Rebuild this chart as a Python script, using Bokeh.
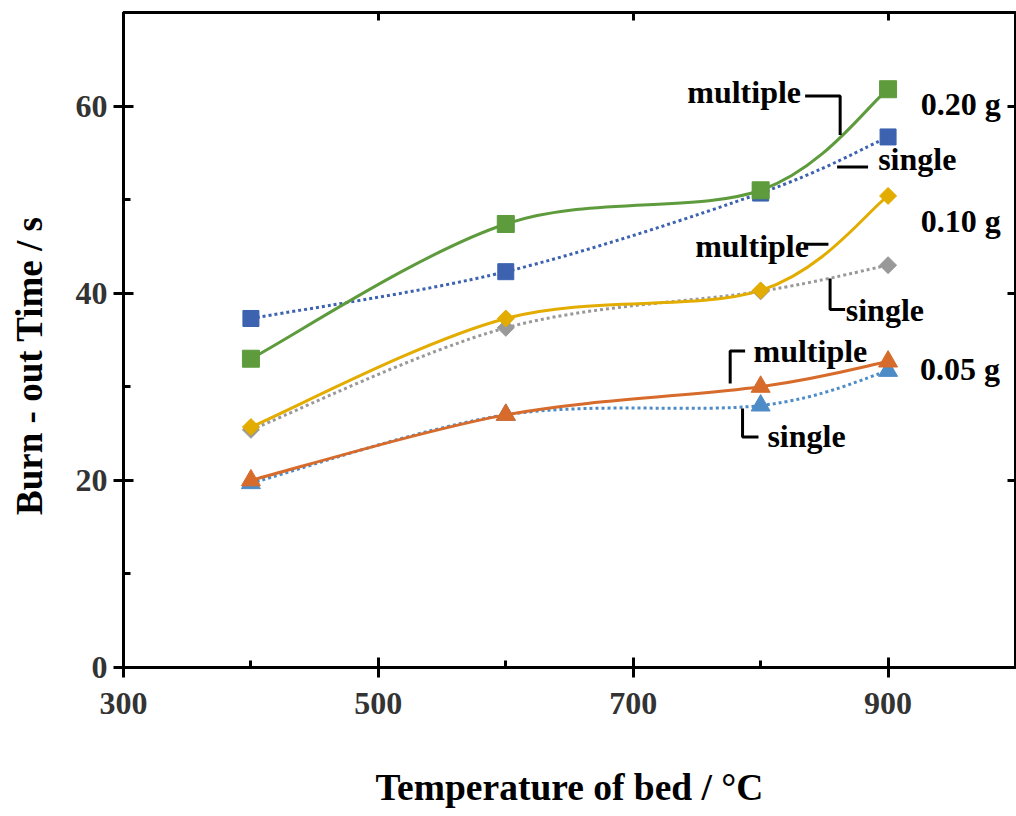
import math
from bokeh.plotting import figure
from bokeh.layouts import row
from bokeh.models import Range1d, FixedTicker, LinearAxis, Label
from bokeh.embed import file_html
from bokeh.resources import INLINE

# ---------------- data ----------------
temps = [400, 600, 800, 900]
multi_020 = [33.0, 47.4, 51.0, 61.8]
single_020 = [37.3, 42.3, 50.7, 56.7]
multi_010 = [25.7, 37.3, 40.3, 50.4]
single_010 = [25.4, 36.3, 40.2, 43.0]
multi_005 = [20.0, 27.0, 30.0, 32.7]
single_005 = [19.7, 27.0, 28.0, 31.7]
x_ticks = [300, 500, 700, 900]
x_minor = [400, 600, 800, 1000]
y_ticks = [0, 20, 40, 60]
y_minor = [10, 30, 50, 70]

FONT = "Liberation Serif"
TITLE_W = 70

# narrow strip holding the vertical y-axis title
tf = figure(width=TITLE_W, height=816, output_backend="svg", toolbar_location=None,
            x_range=Range1d(0, TITLE_W), y_range=Range1d(0, 816),
            x_axis_type=None, y_axis_type=None, min_border=0)
tf.grid.visible = False
tf.outline_line_color = None
tf.add_layout(Label(x=29, y=376, text="Burn - out Time / s", angle=math.pi / 2,
                    text_align="center", text_baseline="middle", text_font=FONT,
                    text_font_style="bold", text_font_size="37px", text_color="black"))

p = figure(width=1016 - TITLE_W, height=816, output_backend="svg", toolbar_location=None,
           x_range=Range1d(300, 1000), y_range=Range1d(0, 70),
           min_border_left=123 - TITLE_W, min_border_right=1, min_border_top=12,
           min_border_bottom=149)
p.grid.visible = False
p.outline_line_color = "black"
p.outline_line_width = 3
p.background_fill_color = "white"
p.border_fill_color = "white"

for ax, tk, mn in ((p.xaxis[0], x_ticks, x_minor), (p.yaxis[0], y_ticks, y_minor)):
    ax.ticker = FixedTicker(ticks=tk, minor_ticks=mn)
    ax.axis_line_width = 3
    ax.axis_line_color = "black"
    ax.major_tick_line_width = 3
    ax.minor_tick_line_width = 3
    ax.major_tick_in = 10
    ax.major_tick_out = 10
    ax.minor_tick_in = 7
    ax.minor_tick_out = 0
    ax.major_label_text_font = FONT
    ax.major_label_text_font_style = "bold"
    ax.major_label_text_font_size = "32px"
    ax.major_label_text_color = "#333333"

p.xaxis.major_label_standoff = 15
p.yaxis.major_label_standoff = 6
p.xaxis.axis_label = "Temperature of bed / °C"
p.xaxis.axis_label_text_font = FONT
p.xaxis.axis_label_text_font_style = "bold"
p.xaxis.axis_label_text_font_size = "37.5px"
p.xaxis.axis_label_text_color = "black"
p.xaxis.axis_label_standoff = 50

# mirror axes (ticks only, empty labels)
for loc, tk in (("above", x_ticks), ("right", y_ticks)):
    ax = LinearAxis(ticker=FixedTicker(ticks=tk), major_tick_in=8, major_tick_out=0,
                    minor_tick_in=0, minor_tick_out=0,
                    major_label_overrides={t: "" for t in tk},
                    major_label_standoff=0, axis_line_width=3, major_tick_line_width=3)
    p.add_layout(ax, loc)


def smooth_segments(xs, ys):
    n = len(xs)
    d = dict(x0=[], y0=[], x1=[], y1=[], cx0=[], cy0=[], cx1=[], cy1=[])
    for i in range(n - 1):
        a, b = max(i - 1, 0), min(i + 2, n - 1)
        d["x0"].append(xs[i]); d["y0"].append(ys[i])
        d["x1"].append(xs[i + 1]); d["y1"].append(ys[i + 1])
        d["cx0"].append(xs[i] + (xs[i + 1] - xs[a]) / 6)
        d["cy0"].append(ys[i] + (ys[i + 1] - ys[a]) / 6)
        d["cx1"].append(xs[i + 1] - (xs[b] - xs[i]) / 6)
        d["cy1"].append(ys[i + 1] - (ys[b] - ys[i]) / 6)
    return d


series = [
    # values, color, dashed, marker, size, angle
    (single_020, "#3C62B0", True, "square", 16, 0),
    (single_010, "#999999", True, "square", 12, math.pi / 4),
    (single_005, "#4E8CC8", True, "triangle", 19, 0),
    (multi_020, "#5E9B3C", False, "square", 17, 0),
    (multi_010, "#E3AC00", False, "square", 12, math.pi / 4),
    (multi_005, "#D66B2B", False, "triangle", 19, 0),
]

for vals, col, dashed, mk, sz, ang in series:
    seg = smooth_segments(temps, vals)
    p.bezier(x0=seg["x0"], y0=seg["y0"], x1=seg["x1"], y1=seg["y1"],
             cx0=seg["cx0"], cy0=seg["cy0"], cx1=seg["cx1"], cy1=seg["cy1"],
             line_color=col, line_width=3, line_dash="3 3" if dashed else "solid")
    p.scatter(temps, vals, marker=mk, size=sz, angle=ang, fill_color=col, line_color=col)

# annotations: (x, y, text)
labels = [
    (742.4, 61.5, "multiple"),
    (892.2, 54.3, "single"),
    (925.6, 60.2, "0.20 g"),
    (925.6, 47.7, "0.10 g"),
    (748.6, 45.0, "multiple"),
    (866.8, 38.25, "single"),
    (794.4, 33.8, "multiple"),
    (925.1, 31.9, "0.05 g"),
    (805.3, 24.7, "single"),
]
for lx, ly, t in labels:
    p.add_layout(Label(x=lx, y=ly, text=t, text_align="left", text_baseline="alphabetic",
                       text_font=FONT, text_font_style="bold", text_font_size="32px",
                       text_color="black"))

leaders = [
    ([834.9, 862.4, 862.4], [61.07, 61.07, 56.9]),
    ([860.0, 884.3], [53.48, 53.48]),
    ([834.9, 853.2], [45.24, 45.24]),
    ([854.5, 854.5, 866.3], [41.57, 38.26, 38.26]),
    ([787.8, 776.1, 776.1], [33.83, 33.83, 30.34]),
    ([785.8, 785.8, 798.3], [27.67, 24.63, 24.63]),
]
for lx, ly in leaders:
    p.line(lx, ly, line_color="black", line_width=3)

layout = row(tf, p, spacing=0)
open("out.html", "w").write(file_html(layout, INLINE))
